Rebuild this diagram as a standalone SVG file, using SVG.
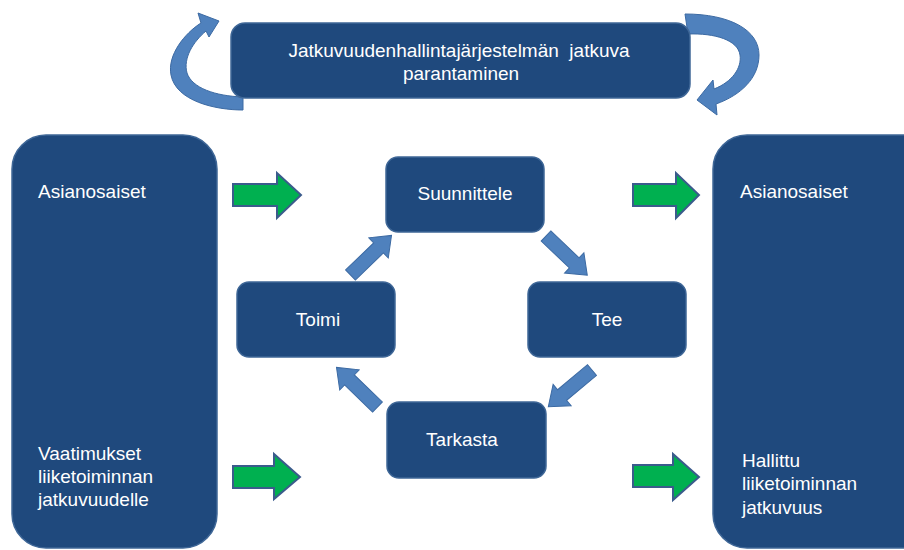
<svg xmlns="http://www.w3.org/2000/svg" xmlns:xlink="http://www.w3.org/1999/xlink" width="904" height="550" viewBox="0 0 904 550">
<style>
.box{fill:#1F497D;stroke:#3F6797;stroke-width:1.5}
.t{font-family:"Liberation Sans",Arial,sans-serif;font-size:19px;fill:#FFFFFF}
.c{text-anchor:middle}
.ba{fill:#4F81BD;stroke:#3C6AA3;stroke-width:1}
.ga{fill:#00B050;stroke:#3B5B8C;stroke-width:2}
</style>
<defs>
<path id="darr" d="M0,-7 L39,-7 L39,-14 L57,0 L39,14 L39,7 L0,7 Z"/>
</defs>
<rect width="904" height="550" fill="#FFFFFF"/>
<g id="connectors">
<path class="ba" d="M 243 110 C 215 110, 176 101, 171 75 C 167 55, 185 33, 201 23 L 198 13 L 219 21 L 209 37 L 206 31 C 193 42, 183 58, 187 73 C 192 88, 215 96, 243 97 Z"/>
<path class="ba" d="M 685 14 C 730 14, 759 30, 759 55 C 759 78, 741 95, 716 104 L 717 115 L 697 100 L 713 80 L 714 89 C 732 82, 742 68, 740 55 C 738 40, 715 33, 688 34 Z"/>
<use xlink:href="#darr" class="ba" transform="translate(350.5,275) rotate(-44)"/>
<use xlink:href="#darr" class="ba" transform="translate(546,236) rotate(43.6)"/>
<use xlink:href="#darr" class="ba" transform="translate(592,370) rotate(140)"/>
<use xlink:href="#darr" class="ba" transform="translate(377.5,407) rotate(-136)"/>
<polygon class="ga" points="233,184 277,184 277,173 301,195 277,218 277,206 233,206"/>
<polygon class="ga" points="633,184 676,184 676,173 699,195 676,218 676,206 633,206"/>
<polygon class="ga" points="233,466 274,466 274,454 300,477 274,499 274,488 233,488"/>
<polygon class="ga" points="633,465 673,465 673,454 699,477 673,500 673,487 633,487"/>
</g>
<g id="top">
<rect class="box" x="231" y="23" width="459" height="75" rx="14"/>
<text class="t c" x="459" y="57" xml:space="preserve">Jatkuvuudenhallintajärjestelmän  jatkuva</text>
<text class="t c" x="461" y="80">parantaminen</text>
</g>
<g id="left">
<rect class="box" x="12" y="135" width="205" height="413" rx="34"/>
<text class="t" x="38" y="198">Asianosaiset</text>
<text class="t" x="38" y="460">Vaatimukset</text>
<text class="t" x="38" y="483">liiketoiminnan</text>
<text class="t" x="38" y="506">jatkuvuudelle</text>
</g>
<g id="right">
<rect class="box" x="713" y="135" width="230" height="413" rx="34"/>
<text class="t" x="740" y="198">Asianosaiset</text>
<text class="t" x="742" y="467">Hallittu</text>
<text class="t" x="742" y="490">liiketoiminnan</text>
<text class="t" x="742" y="514">jatkuvuus</text>
</g>
<g id="suunnittele">
<rect class="box" x="386" y="157" width="158" height="75" rx="12"/>
<text class="t c" x="465" y="200">Suunnittele</text>
</g>
<g id="toimi">
<rect class="box" x="237" y="282" width="158" height="75" rx="12"/>
<text class="t c" x="318" y="326">Toimi</text>
</g>
<g id="tee">
<rect class="box" x="528" y="282" width="158" height="75" rx="12"/>
<text class="t c" x="607" y="326">Tee</text>
</g>
<g id="tarkasta">
<rect class="box" x="387" y="402" width="159" height="76" rx="12"/>
<text class="t c" x="462" y="446">Tarkasta</text>
</g>
</svg>
